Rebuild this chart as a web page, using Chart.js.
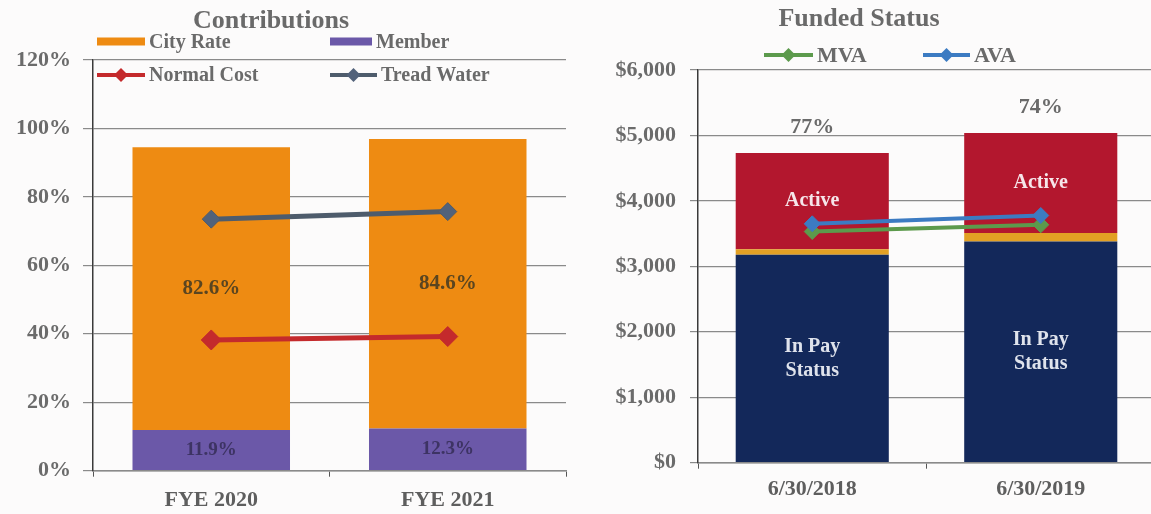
<!DOCTYPE html>
<html>
<head>
<meta charset="utf-8">
<script src="https://cdn.jsdelivr.net/npm/chart.js@4.4.1/dist/chart.umd.min.js"></script>
<style>
  html, body { margin: 0; padding: 0; background: #fcfbfb; }
  #wrap { position: relative; width: 1151px; height: 514px; overflow: hidden; }
  .box { position: absolute; top: 0; height: 514px; }
  #leftBox { left: 0; width: 580px; }
  #rightBox { left: 580px; width: 584px; }
</style>
</head>
<body>
<div id="wrap">
  <div class="box" id="leftBox"><canvas id="contribChart" width="580" height="514"></canvas></div>
  <div class="box" id="rightBox"><canvas id="fundedChart" width="584" height="514"></canvas></div>
</div>
<script>
// --- Contributions (left) ---
const contribCategories = ['FYE 2020', 'FYE 2021'];
const memberRate = [11.9, 12.3];
const cityRate = [82.6, 84.6];
const normalCost = [38.2, 39.2];
const treadWater = [73.5, 75.7];

// --- Funded Status (right), $ millions ---
const fundedCategories = ['6/30/2018', '6/30/2019'];
const inPayStatus = [3176, 3379];
const inactive = [87, 129];
const activeMembers = [1467, 1529];
const mva = [3532, 3635];
const ava = [3650, 3777];
const fundedRatio = ['77%', '74%'];

const SERIF = '"Liberation Serif", "Times New Roman", serif';
const AXIS_GREY = '#6b6b6b';

// small diamond helper, used for the legend markers
const diamond = (ctx, x, y, r, fill) => {
    ctx.beginPath();
    ctx.moveTo(x, y - r);
    ctx.lineTo(x + r, y);
    ctx.lineTo(x, y + r);
    ctx.lineTo(x - r, y);
    ctx.closePath();
    ctx.fillStyle = fill;
    ctx.fill();
};

// draws title, hand placed legend and the labels inside / above the bars
const overlayPlugin = {
    id: 'overlay',
    afterDatasetsDraw(chart) {
        const ctx = chart.ctx;
        ctx.save();
        ctx.textAlign = 'center';
        ctx.textBaseline = 'middle';
        chart.data.datasets.forEach((ds, i) => {
            const meta = chart.getDatasetMeta(i);
            if (ds.inLabel) {
                ctx.font = ds.inLabel.font;
                ctx.fillStyle = ds.inLabel.color;
                meta.data.forEach((el, j) => {
                    const txt = typeof ds.inLabel.text === 'function' ? ds.inLabel.text(ds.data[j]) : ds.inLabel.text;
                    const lines = txt.split('\n');
                    const cy = (el.y + el.base) / 2 + (ds.inLabel.dy || 0);
                    const lh = ds.inLabel.lineHeight || 24;
                    lines.forEach((ln, k) => {
                        ctx.fillText(ln, el.x, cy + (k - (lines.length - 1) / 2) * lh);
                    });
                });
            }
            if (ds.topLabels) {
                ctx.font = 'bold 22px ' + SERIF;
                ctx.fillStyle = '#6a6a6a';
                meta.data.forEach((el, j) => {
                    ctx.fillText(ds.topLabels[j], el.x, el.y - 26);
                });
            }
        });
        ctx.restore();
    },
    afterDraw(chart, args, opts) {
        const ctx = chart.ctx;
        ctx.save();
        if (opts.title) {
            ctx.font = 'bold 26px ' + SERIF;
            ctx.fillStyle = '#6a6a6a';
            ctx.textAlign = 'center';
            ctx.textBaseline = 'middle';
            ctx.fillText(opts.title.text, opts.title.x, opts.title.y);
        }
        (opts.legend || []).forEach(item => {
            const ds = chart.data.datasets[item.index];
            if (ds.type === 'line') {
                ctx.strokeStyle = ds.borderColor;
                ctx.lineWidth = 4;
                ctx.beginPath();
                ctx.moveTo(item.x, item.y);
                ctx.lineTo(item.x + item.w, item.y);
                ctx.stroke();
                diamond(ctx, item.x + item.w / 2, item.y, 7, ds.pointBackgroundColor);
            } else {
                ctx.fillStyle = ds.backgroundColor;
                ctx.fillRect(item.x, item.y - 4, item.w, 8);
            }
            ctx.font = opts.legendFont;
            ctx.fillStyle = '#6a6a6a';
            ctx.textAlign = 'left';
            ctx.textBaseline = 'middle';
            ctx.fillText(ds.label, item.x + item.w + 4, item.y + 1);
        });
        ctx.restore();
    }
};

const tickFont = { family: SERIF, size: 22, weight: 'bold' };

// ---------- Contributions ----------
new Chart(document.getElementById('contribChart'), {
    type: 'bar',
    data: {
        labels: contribCategories,
        datasets: [
            {
                type: 'line', label: 'Normal Cost', data: normalCost, stack: 'nc', order: 1,
                borderColor: '#c42a2c', borderWidth: 5, pointStyle: 'rectRot', pointRadius: 10,
                pointBackgroundColor: '#c42a2c', pointBorderColor: '#c42a2c', pointBorderWidth: 1
            },
            {
                type: 'line', label: 'Tread Water', data: treadWater, stack: 'tw', order: 1,
                borderColor: '#4e5c6c', borderWidth: 5, pointStyle: 'rectRot', pointRadius: 9,
                pointBackgroundColor: '#52627a', pointBorderColor: '#4e5c6c', pointBorderWidth: 1
            },
            {
                label: 'Member', data: memberRate, stack: 'rate', order: 2,
                backgroundColor: '#6b58a8', barPercentage: 0.666, categoryPercentage: 1,
                inLabel: { text: v => v.toFixed(1) + '%', color: '#3d3363', font: 'bold 19px ' + SERIF }
            },
            {
                label: 'City Rate', data: cityRate, stack: 'rate', order: 2,
                backgroundColor: '#ee8b12', barPercentage: 0.666, categoryPercentage: 1,
                inLabel: { text: v => v.toFixed(1) + '%', color: '#5a4520', font: 'bold 21px ' + SERIF }
            }
        ]
    },
    options: {
        responsive: false,
        animation: false,
        layout: { padding: { top: 60, right: 14, left: 0, bottom: 0 } },
        scales: {
            x: {
                stacked: true,
                grid: { drawOnChartArea: false, drawTicks: true, tickLength: 6, color: '#555', offset: true },
                border: { color: '#8a8a8a', width: 1.5 },
                ticks: { font: tickFont, color: '#5e5e5e', padding: 10 },
                afterFit: s => { s.height = 43.3; }
            },
            y: {
                stacked: true,
                min: 0, max: 120,
                grid: { color: '#8a8a8a', lineWidth: 1.2, tickLength: 10 },
                border: { color: '#3a3a3a', width: 1.5 },
                ticks: { stepSize: 20, font: tickFont, color: AXIS_GREY, padding: 12, callback: v => v + '%' },
                afterFit: s => { s.width = 93; }
            }
        },
        plugins: {
            legend: { display: false },
            tooltip: { enabled: false },
            overlay: {
                title: { text: 'Contributions', x: 271, y: 21 },
                legendFont: 'bold 20px ' + SERIF,
                legend: [
                    { index: 3, x: 97, y: 41.5, w: 48 },
                    { index: 2, x: 330, y: 41.5, w: 42 },
                    { index: 0, x: 97, y: 75, w: 48 },
                    { index: 1, x: 330, y: 75, w: 47 }
                ]
            }
        }
    },
    plugins: [overlayPlugin]
});

// ---------- Funded Status ----------
new Chart(document.getElementById('fundedChart'), {
    type: 'bar',
    data: {
        labels: fundedCategories,
        datasets: [
            {
                type: 'line', label: 'MVA', data: mva, stack: 'mva', order: 1,
                borderColor: '#5c9a4c', borderWidth: 4, pointStyle: 'rectRot', pointRadius: 8,
                pointBackgroundColor: '#5c9a4c', pointBorderColor: '#5c9a4c', pointBorderWidth: 1
            },
            {
                type: 'line', label: 'AVA', data: ava, stack: 'ava', order: 0,
                borderColor: '#3c7bc2', borderWidth: 4, pointStyle: 'rectRot', pointRadius: 8,
                pointBackgroundColor: '#3c7bc2', pointBorderColor: '#3c7bc2', pointBorderWidth: 1
            },
            {
                label: 'In Pay Status', data: inPayStatus, stack: 'liab', order: 2,
                backgroundColor: '#13285a', barPercentage: 0.67, categoryPercentage: 1,
                inLabel: { text: 'In Pay\nStatus', color: '#dfe3ec', font: 'bold 20px ' + SERIF, lineHeight: 24 }
            },
            {
                label: 'Inactive', data: inactive, stack: 'liab', order: 2,
                backgroundColor: '#e2a024', barPercentage: 0.67, categoryPercentage: 1
            },
            {
                label: 'Active', data: activeMembers, stack: 'liab', order: 2,
                backgroundColor: '#b3172e', barPercentage: 0.67, categoryPercentage: 1,
                inLabel: { text: 'Active', color: '#f6e6ea', font: 'bold 20px ' + SERIF },
                topLabels: fundedRatio
            }
        ]
    },
    options: {
        responsive: false,
        animation: false,
        layout: { padding: { top: 70, right: 0, left: 0, bottom: 0 } },
        scales: {
            x: {
                stacked: true,
                grid: { drawOnChartArea: false, drawTicks: true, tickLength: 6, color: '#555', offset: true },
                border: { color: '#8a8a8a', width: 1.5 },
                ticks: { font: tickFont, color: '#5e5e5e', padding: 7 },
                afterFit: s => { s.height = 51.3; }
            },
            y: {
                stacked: true,
                min: 0, max: 6000,
                grid: { color: '#8a8a8a', lineWidth: 1.2, tickLength: 8 },
                border: { color: '#3a3a3a', width: 1.5 },
                ticks: {
                    stepSize: 1000, font: tickFont, color: AXIS_GREY, padding: 14,
                    callback: v => '$' + v.toLocaleString('en-US')
                },
                afterFit: s => { s.width = 118; }
            }
        },
        plugins: {
            legend: { display: false },
            tooltip: { enabled: false },
            overlay: {
                title: { text: 'Funded Status', x: 279, y: 19 },
                legendFont: 'bold 22px ' + SERIF,
                legend: [
                    { index: 0, x: 184, y: 55, w: 49 },
                    { index: 1, x: 343, y: 55, w: 47 }
                ]
            }
        }
    },
    plugins: [overlayPlugin]
});
</script>
</body>
</html>
